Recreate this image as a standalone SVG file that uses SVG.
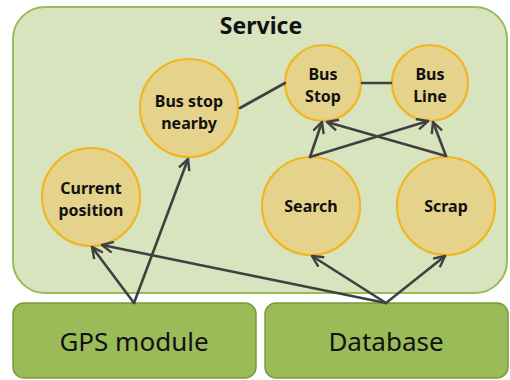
<svg xmlns="http://www.w3.org/2000/svg" width="510" height="380" viewBox="0 0 510 380">
  <style>
    .svc { fill: #d7e4bd; stroke: #9bbb59; stroke-width: 2; }
    .node { fill: #e5d38b; stroke: #f2b523; stroke-width: 2.2; }
    .box { fill: #9bbb59; stroke: #7a9a3e; stroke-width: 1.5; }
    .lbl { font-family: "Noto Sans", "Open Sans", sans-serif; font-weight: bold; fill: #111; text-anchor: middle; }
    .small { font-size: 16px; }
    .big { font-size: 26px; font-weight: normal; }
    .title { font-size: 23px; }
    .edge { fill: none; stroke: #404040; stroke-width: 2.6; stroke-linecap: round; }
  </style>
  <defs>
    <marker id="arr" viewBox="0 0 13 13" refX="12" refY="6.5" markerWidth="13" markerHeight="13" markerUnits="userSpaceOnUse" orient="auto">
      <path d="M1,1 L12,6.5 L1,12" fill="none" stroke="#404040" stroke-width="2.4" stroke-linejoin="miter"/>
    </marker>
  </defs>

  <rect width="510" height="380" fill="#ffffff"/>

  <g id="service">
    <rect class="svc" x="13" y="7" width="494" height="286" rx="32" ry="32"/>
    <text class="lbl title" x="261" y="34">Service</text>
  </g>

  <g id="gps-module">
    <rect class="box" x="13" y="303" width="243" height="75" rx="11" ry="11"/>
    <text class="lbl big" x="134" y="351">GPS module</text>
  </g>

  <g id="database">
    <rect class="box" x="265" y="303" width="243" height="75" rx="11" ry="11"/>
    <text class="lbl big" x="386" y="351">Database</text>
  </g>

  <g id="bus-stop-nearby">
    <circle class="node" cx="189" cy="108" r="49"/>
    <text class="lbl small" x="189" y="107">Bus stop</text>
    <text class="lbl small" x="189" y="129">nearby</text>
  </g>

  <g id="bus-stop">
    <circle class="node" cx="323" cy="83" r="38"/>
    <text class="lbl small" x="323" y="80">Bus</text>
    <text class="lbl small" x="323" y="102">Stop</text>
  </g>

  <g id="bus-line">
    <circle class="node" cx="430" cy="83" r="38"/>
    <text class="lbl small" x="430" y="80">Bus</text>
    <text class="lbl small" x="430" y="102">Line</text>
  </g>

  <g id="current-position">
    <circle class="node" cx="91" cy="197" r="49"/>
    <text class="lbl small" x="91" y="194">Current</text>
    <text class="lbl small" x="91" y="216">position</text>
  </g>

  <g id="search">
    <circle class="node" cx="311" cy="206" r="49"/>
    <text class="lbl small" x="311" y="212">Search</text>
  </g>

  <g id="scrap">
    <circle class="node" cx="446" cy="206" r="49"/>
    <text class="lbl small" x="446" y="212">Scrap</text>
  </g>

  <g id="connectors">
    <line class="edge" x1="134" y1="303" x2="92" y2="247" marker-end="url(#arr)"/>
    <line class="edge" x1="134" y1="303" x2="188" y2="159" marker-end="url(#arr)"/>
    <line class="edge" x1="386" y1="303" x2="102" y2="245" marker-end="url(#arr)"/>
    <line class="edge" x1="386" y1="303" x2="312" y2="256" marker-end="url(#arr)"/>
    <line class="edge" x1="386" y1="303" x2="445" y2="256" marker-end="url(#arr)"/>
    <line class="edge" x1="240" y1="108" x2="285" y2="83"/>
    <line class="edge" x1="362" y1="83" x2="391" y2="83"/>
    <line class="edge" x1="310" y1="157" x2="322" y2="122" marker-end="url(#arr)"/>
    <line class="edge" x1="310" y1="157" x2="428" y2="121" marker-end="url(#arr)"/>
    <line class="edge" x1="446" y1="156" x2="327" y2="122" marker-end="url(#arr)"/>
    <line class="edge" x1="446" y1="156" x2="433" y2="122" marker-end="url(#arr)"/>
  </g>
</svg>
